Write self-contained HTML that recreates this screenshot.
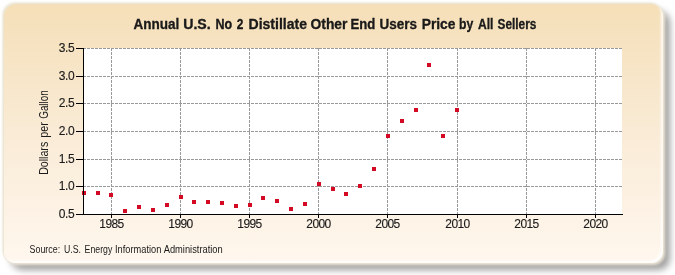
<!DOCTYPE html>
<html><head><meta charset="utf-8"><style>
html,body{margin:0;padding:0;background:#fff;width:675px;height:275px;overflow:hidden}
#panel{position:absolute;left:4px;top:4px;width:659px;height:259px;border-radius:12px;
background:linear-gradient(to bottom,#F5DFB8 0%,#F9EBD6 50%,#FFF7EE 100%);
box-shadow:inset -3px -3px 3px -1px rgba(255,255,255,0.85),2px 2px 3px 0px rgba(248,238,222,0.9),-1px -1px 3px 0px rgba(215,205,172,0.8),7px 7px 7px rgba(0,0,0,0.38)}
svg{position:absolute;left:0;top:0;will-change:transform}
text{font-family:"Liberation Sans",sans-serif;fill:#1a1a1a}
</style></head><body>
<div id="panel"></div>
<svg width="675" height="275" viewBox="0 0 675 275">
<rect x="83" y="48" width="539" height="166" fill="#fff"/>
<g stroke="#999999" stroke-width="1" stroke-dasharray="3,1" fill="none"><line x1="111.5" y1="48" x2="111.5" y2="214"/><line x1="180.5" y1="48" x2="180.5" y2="214"/><line x1="249.5" y1="48" x2="249.5" y2="214"/><line x1="318.5" y1="48" x2="318.5" y2="214"/><line x1="387.5" y1="48" x2="387.5" y2="214"/><line x1="457.5" y1="48" x2="457.5" y2="214"/><line x1="526.5" y1="48" x2="526.5" y2="214"/><line x1="595.5" y1="48" x2="595.5" y2="214"/><line x1="83" y1="48.5" x2="622" y2="48.5"/><line x1="83" y1="76.5" x2="622" y2="76.5"/><line x1="83" y1="103.5" x2="622" y2="103.5"/><line x1="83" y1="131.5" x2="622" y2="131.5"/><line x1="83" y1="159.5" x2="622" y2="159.5"/><line x1="83" y1="186.5" x2="622" y2="186.5"/></g>
<g fill="#D40A24"><rect x="82" y="191" width="4" height="4"/><rect x="96" y="191" width="4" height="4"/><rect x="109" y="193" width="4" height="4"/><rect x="123" y="209" width="4" height="4"/><rect x="137" y="205" width="4" height="4"/><rect x="151" y="208" width="4" height="4"/><rect x="165" y="203" width="4" height="4"/><rect x="179" y="195" width="4" height="4"/><rect x="192" y="200" width="4" height="4"/><rect x="206" y="200" width="4" height="4"/><rect x="220" y="201" width="4" height="4"/><rect x="234" y="204" width="4" height="4"/><rect x="248" y="203" width="4" height="4"/><rect x="261" y="196" width="4" height="4"/><rect x="275" y="199" width="4" height="4"/><rect x="289" y="207" width="4" height="4"/><rect x="303" y="202" width="4" height="4"/><rect x="317" y="182" width="4" height="4"/><rect x="331" y="187" width="4" height="4"/><rect x="344" y="192" width="4" height="4"/><rect x="358" y="184" width="4" height="4"/><rect x="372" y="167" width="4" height="4"/><rect x="386" y="134" width="4" height="4"/><rect x="400" y="119" width="4" height="4"/><rect x="414" y="108" width="4" height="4"/><rect x="427" y="63" width="4" height="4"/><rect x="441" y="134" width="4" height="4"/><rect x="455" y="108" width="4" height="4"/></g>
<g stroke="#000" stroke-width="1" fill="none">
<line x1="83.5" y1="48" x2="83.5" y2="215"/>
<line x1="83" y1="214.5" x2="623" y2="214.5"/>
<line x1="76" y1="48.5" x2="83" y2="48.5"/><line x1="76" y1="76.5" x2="83" y2="76.5"/><line x1="76" y1="103.5" x2="83" y2="103.5"/><line x1="76" y1="131.5" x2="83" y2="131.5"/><line x1="76" y1="159.5" x2="83" y2="159.5"/><line x1="76" y1="186.5" x2="83" y2="186.5"/><line x1="76" y1="214.5" x2="83" y2="214.5"/><line x1="111.5" y1="214" x2="111.5" y2="218"/><line x1="180.5" y1="214" x2="180.5" y2="218"/><line x1="249.5" y1="214" x2="249.5" y2="218"/><line x1="318.5" y1="214" x2="318.5" y2="218"/><line x1="387.5" y1="214" x2="387.5" y2="218"/><line x1="457.5" y1="214" x2="457.5" y2="218"/><line x1="526.5" y1="214" x2="526.5" y2="218"/><line x1="595.5" y1="214" x2="595.5" y2="218"/></g>
<g font-size="11.5" letter-spacing="-0.3" stroke="#111" stroke-width="0.12"><text x="74.3" y="52.0" text-anchor="end" font-size="12" letter-spacing="-0.4">3.5</text><text x="74.3" y="80.0" text-anchor="end" font-size="12" letter-spacing="-0.4">3.0</text><text x="74.3" y="107.0" text-anchor="end" font-size="12" letter-spacing="-0.4">2.5</text><text x="74.3" y="135.0" text-anchor="end" font-size="12" letter-spacing="-0.4">2.0</text><text x="74.3" y="163.0" text-anchor="end" font-size="12" letter-spacing="-0.4">1.5</text><text x="74.3" y="190.0" text-anchor="end" font-size="12" letter-spacing="-0.4">1.0</text><text x="74.3" y="218.0" text-anchor="end" font-size="12" letter-spacing="-0.4">0.5</text><text x="111.5" y="228" text-anchor="middle" font-size="12" letter-spacing="-0.6">1985</text><text x="180.5" y="228" text-anchor="middle" font-size="12" letter-spacing="-0.6">1990</text><text x="249.5" y="228" text-anchor="middle" font-size="12" letter-spacing="-0.6">1995</text><text x="318.5" y="228" text-anchor="middle" font-size="12" letter-spacing="-0.6">2000</text><text x="387.5" y="228" text-anchor="middle" font-size="12" letter-spacing="-0.6">2005</text><text x="457.5" y="228" text-anchor="middle" font-size="12" letter-spacing="-0.6">2010</text><text x="526.5" y="228" text-anchor="middle" font-size="12" letter-spacing="-0.6">2015</text><text x="595.5" y="228" text-anchor="middle" font-size="12" letter-spacing="-0.6">2020</text></g>
<g font-size="14" font-weight="bold" stroke="#111" stroke-width="0.3"><text x="133.56" y="29" textLength="45.78" lengthAdjust="spacingAndGlyphs">Annual</text><text x="183.2" y="29" textLength="27.48" lengthAdjust="spacingAndGlyphs">U.S.</text><text x="215.56" y="29" textLength="16.71" lengthAdjust="spacingAndGlyphs">No</text><text x="236.7" y="29" textLength="6.63" lengthAdjust="spacingAndGlyphs">2</text><text x="248.5" y="29" textLength="58.46" lengthAdjust="spacingAndGlyphs">Distillate</text><text x="310.56" y="29" textLength="36.89" lengthAdjust="spacingAndGlyphs">Other</text><text x="350.5" y="29" textLength="24.83" lengthAdjust="spacingAndGlyphs">End</text><text x="379.56" y="29" textLength="37.46" lengthAdjust="spacingAndGlyphs">Users</text><text x="421.7" y="29" textLength="33.75" lengthAdjust="spacingAndGlyphs">Price</text><text x="459.1" y="29" textLength="14.23" lengthAdjust="spacingAndGlyphs">by</text><text x="478.0" y="29" textLength="15.47" lengthAdjust="spacingAndGlyphs">All</text><text x="497.56" y="29" textLength="38.83" lengthAdjust="spacingAndGlyphs">Sellers</text></g>
<g transform="rotate(-90)" font-size="12"><text x="-174.8" y="48" textLength="33.0" lengthAdjust="spacingAndGlyphs">Dollars</text><text x="-137.7" y="48" textLength="15.51" lengthAdjust="spacingAndGlyphs">per</text><text x="-118.8" y="48" textLength="28.54" lengthAdjust="spacingAndGlyphs">Gallon</text></g>
<g font-size="10"><text x="29.6" y="253" textLength="30.51" lengthAdjust="spacingAndGlyphs">Source:</text><text x="63.9" y="253" textLength="17.0" lengthAdjust="spacingAndGlyphs">U.S.</text><text x="84.6" y="253" textLength="27.73" lengthAdjust="spacingAndGlyphs">Energy</text><text x="115.0" y="253" textLength="46.33" lengthAdjust="spacingAndGlyphs">Information</text><text x="163.7" y="253" textLength="59.03" lengthAdjust="spacingAndGlyphs">Administration</text></g>
</svg>
</body></html>
